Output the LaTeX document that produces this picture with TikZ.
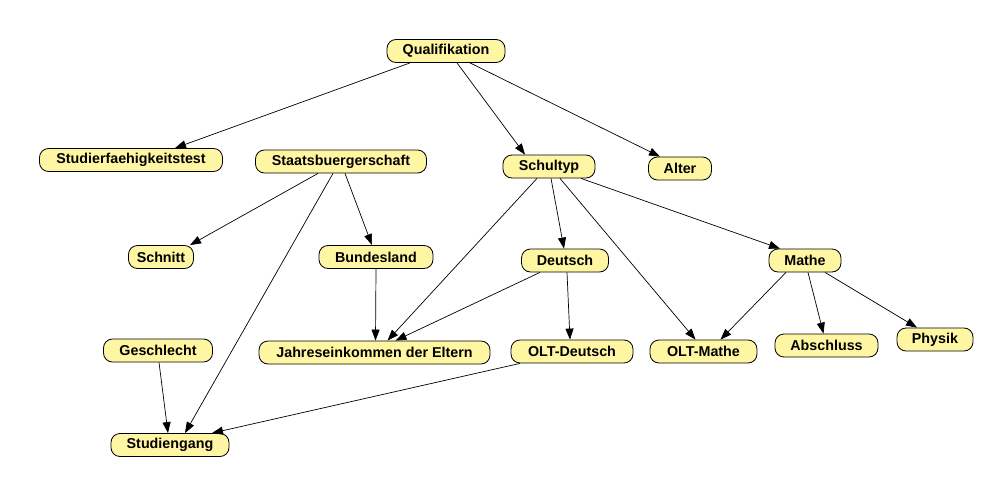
\documentclass[tikz,border=0pt]{standalone}
\usepackage{fontspec}
\setmainfont{Liberation Sans}
\usetikzlibrary{arrows.meta}
\definecolor{nodefill}{RGB}{255,246,163}
\tikzset{
  x=1pt, y=-1pt,
  nd/.style={draw=black, line width=0.8pt, fill=nodefill, rounded corners=9pt,
    minimum height=23pt, inner sep=0pt, font=\fontsize{14.3}{15}\selectfont\bfseries},
  ed/.style={draw=black, line width=0.7pt, -{Triangle[length=11pt,width=8pt]}}
}
\begin{document}
\begin{tikzpicture}
\useasboundingbox (0,0) rectangle (986,503);
\node[nd, minimum width=118pt] (q) at (446,51) {Qualifikation};
\node[nd, minimum width=183pt] (sft) at (131,160) {Studierfaehigkeitstest};
\node[nd, minimum width=171pt] (st) at (341,161.5) {Staatsbuergerschaft};
\node[nd, minimum width=92pt] (sch) at (549,166.5) {Schultyp};
\node[nd, minimum width=63pt] (al) at (680,168.5) {Alter};
\node[nd, minimum width=65pt] (sn) at (161,257) {Schnitt};
\node[nd, minimum width=114pt] (bl) at (376,257) {Bundesland};
\node[nd, minimum width=87pt] (de) at (565,260.5) {Deutsch};
\node[nd, minimum width=72pt] (ma) at (805,260.5) {Mathe};
\node[nd, minimum width=109pt] (ge) at (158,350.5) {Geschlecht};
\node[nd, minimum width=231pt] (je) at (374.5,352.5) {Jahreseinkommen der Eltern};
\node[nd, minimum width=122pt] (od) at (572,351.5) {OLT-Deutsch};
\node[nd, minimum width=107pt] (om) at (703.5,351.5) {OLT-Mathe};
\node[nd, minimum width=103pt] (ab) at (826.5,345.5) {Abschluss};
\node[nd, minimum width=76pt] (ph) at (935,339.5) {Physik};
\node[nd, minimum width=118pt] (sg) at (170,445) {Studiengang};

\draw[ed] ([xshift=-36pt]q.south) -- ([xshift=44pt]sft.north);
\draw[ed] ([xshift=11pt]q.south) -- ([xshift=-24pt]sch.north);
\draw[ed] ([xshift=24pt]q.south) -- ([xshift=-20pt]al.north);
\draw[ed] ([xshift=-23pt]st.south) -- ([xshift=29pt]sn.north);
\draw[ed] ([xshift=4pt]st.south) -- ([xshift=-4pt]bl.north);
\draw[ed] ([xshift=-8pt]st.south) -- ([xshift=15pt]sg.north);
\draw[ed] ([xshift=-12pt]sch.south) -- ([xshift=13pt]je.north);
\draw[ed] ([xshift=2pt]sch.south) -- ([xshift=-1pt]de.north);
\draw[ed] ([xshift=11pt]sch.south) -- ([xshift=-8pt]om.north);
\draw[ed] ([xshift=32pt]sch.south) -- ([xshift=-25pt]ma.north);
\draw[ed] (bl.south) -- ([xshift=1pt]je.north);
\draw[ed] ([xshift=-25pt]de.south) -- ([xshift=21pt]je.north);
\draw[ed] ([xshift=2pt]de.south) -- ([xshift=-2pt]od.north);
\draw[ed] ([xshift=-19pt]ma.south) -- ([xshift=17pt]om.north);
\draw[ed] ([xshift=3pt]ma.south) -- ([xshift=-3pt]ab.north);
\draw[ed] ([xshift=20pt]ma.south) -- ([xshift=-18pt]ph.north);
\draw[ed] ([xshift=1pt]ge.south) -- ([xshift=-2pt]sg.north);
\draw[ed] ([xshift=-52pt]od.south) -- ([xshift=42pt]sg.north);
\end{tikzpicture}
\end{document}
